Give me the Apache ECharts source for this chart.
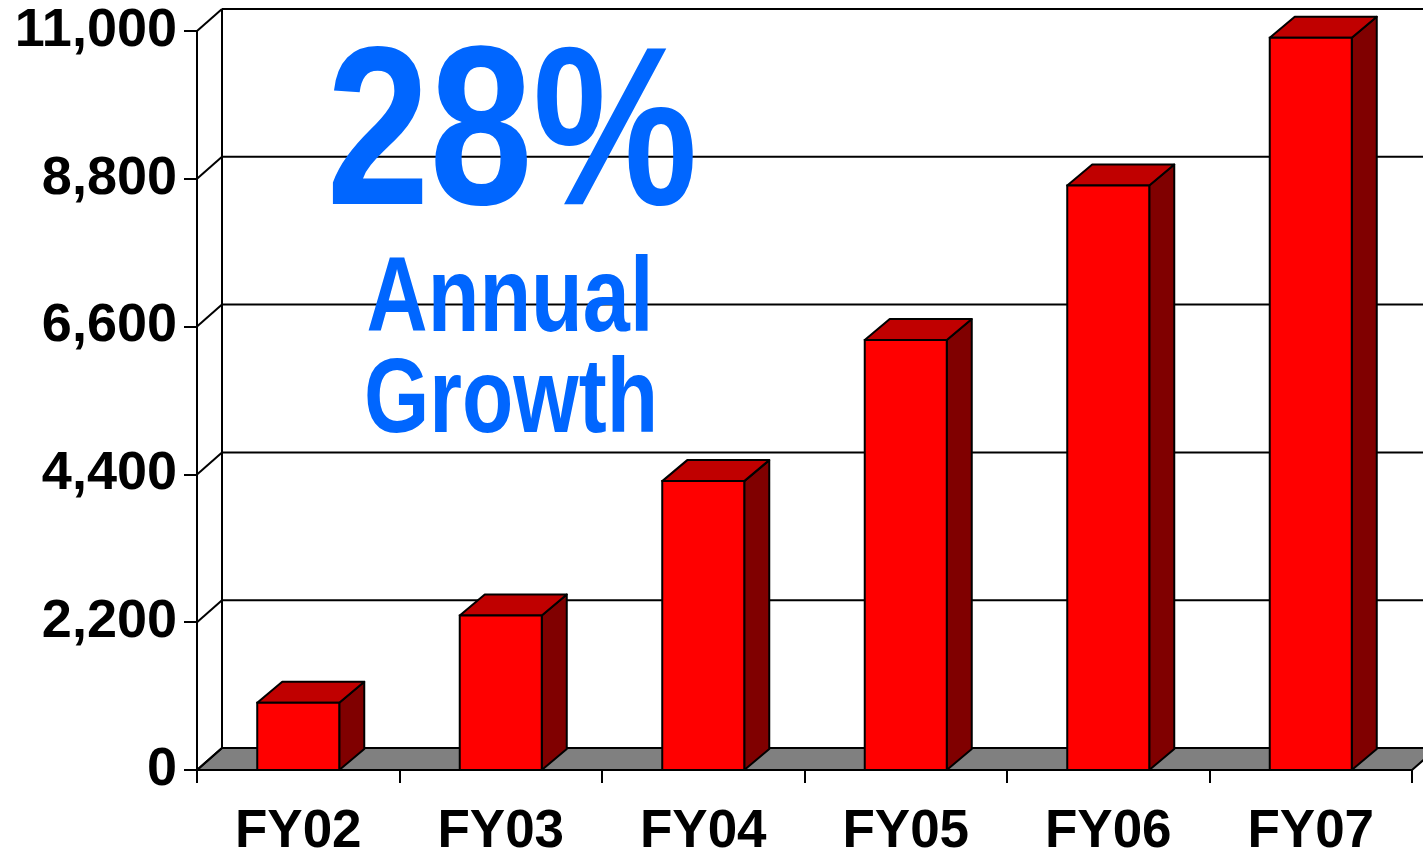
<!DOCTYPE html>
<html>
<head>
<meta charset="utf-8">
<script src="https://cdn.jsdelivr.net/npm/echarts@6/dist/echarts.min.js"></script>
<style>
html,body{margin:0;padding:0;background:#fff;}
#chart{width:1423px;height:854px;}
</style>
</head>
<body>
<div id="chart"></div>
<script>
const categories = ['FY02', 'FY03', 'FY04', 'FY05', 'FY06', 'FY07'];
const values = [1000, 2300, 4300, 6400, 8700, 10900];
const yTicks = [0, 2200, 4400, 6600, 8800, 11000];
const headline = '28%';
const subline1 = 'Annual';
const subline2 = 'Growth';

const DX = 25, DY = 22;
const FONT = '"Liberation Sans", Arial, sans-serif';

const chart = echarts.init(document.getElementById('chart'), null, {renderer: 'canvas'});

const option = {
  animation: false,
  backgroundColor: '#ffffff',
  grid: {left: 197, right: 11, top: 31, bottom: 84, containLabel: false, outerBoundsMode: 'none'},
  xAxis: {
    type: 'category',
    data: categories,
    boundaryGap: true,
    axisLine: {show: true, lineStyle: {color: '#000', width: 2}},
    axisTick: {show: true, length: 13, lineStyle: {color: '#000', width: 2}},
    axisLabel: {color: '#000', fontSize: 53, fontWeight: 'bold', fontFamily: FONT, margin: 36},
    splitLine: {show: false}
  },
  yAxis: {
    type: 'value',
    min: 0, max: 11000, interval: 2200,
    axisLine: {show: true, lineStyle: {color: '#000', width: 2}},
    axisTick: {show: true, length: 13, lineStyle: {color: '#000', width: 2}},
    axisLabel: {
      color: '#000', fontSize: 54, fontWeight: 'bold', fontFamily: FONT, margin: 20,
      formatter: v => v.toLocaleString('en-US')
    },
    splitLine: {show: false}
  },
  series: [
    {
      type: 'custom',
      name: 'floor',
      z: 1,
      silent: true,
      data: [[0, 0]],
      renderItem: function (params, api) {
        const cs = params.coordSys;
        const y0 = api.coord([0, 0])[1];
        const yTop = api.coord([0, yTicks[yTicks.length - 1]])[1];
        const x0 = cs.x, x1 = cs.x + cs.width;
        return {
          type: 'group',
          children: [
            {
              type: 'polygon',
              shape: {points: [[x0, y0], [x0 + DX, y0 - DY], [x1 + DX, y0 - DY], [x1, y0]]},
              style: {fill: '#808080', stroke: '#000', lineWidth: 2}
            },
            {
              type: 'line',
              shape: {x1: x0 + DX, y1: y0 - DY, x2: x0 + DX, y2: yTop - DY},
              style: {stroke: '#000', lineWidth: 2}
            }
          ]
        };
      }
    },
    {
      type: 'custom',
      name: 'wall',
      z: 2,
      silent: true,
      data: yTicks.map(v => [0, v]),
      renderItem: function (params, api) {
        const cs = params.coordSys;
        const y = api.coord([0, api.value(1)])[1];
        const x0 = cs.x, x1 = cs.x + cs.width;
        const children = [
          {type: 'line', shape: {x1: x0, y1: y, x2: x0 + DX, y2: y - DY}, style: {stroke: '#000', lineWidth: 2}}
        ];
        if (api.value(1) !== 0) {
          children.push({type: 'line', shape: {x1: x0 + DX, y1: y - DY, x2: x1 + DX, y2: y - DY}, style: {stroke: '#000', lineWidth: 2}});
        }
        return {type: 'group', children: children};
      }
    },
    {
      type: 'custom',
      name: 'bars',
      z: 3,
      data: values.map((v, i) => [i, v]),
      renderItem: function (params, api) {
        const top = api.coord([api.value(0), api.value(1)]);
        const base = api.coord([api.value(0), 0]);
        const w = api.size([1, 0])[0] * 0.405;
        const xl = top[0] - w / 2, xr = top[0] + w / 2;
        const yt = top[1], yb = base[1];
        const dx = DX, dy = 21;
        return {
          type: 'group',
          children: [
            {
              type: 'polygon',
              shape: {points: [[xr, yt], [xr + dx, yt - dy], [xr + dx, yb - dy], [xr, yb]]},
              style: {fill: '#800000', stroke: '#000', lineWidth: 2, lineJoin: 'round'}
            },
            {
              type: 'polygon',
              shape: {points: [[xl, yt], [xl + dx, yt - dy], [xr + dx, yt - dy], [xr, yt]]},
              style: {fill: '#C00000', stroke: '#000', lineWidth: 2, lineJoin: 'round'}
            },
            {
              type: 'rect',
              shape: {x: xl, y: yt, width: w, height: yb - yt},
              style: {fill: '#FF0000', stroke: '#000', lineWidth: 2}
            }
          ]
        };
      }
    }
  ],
  graphic: [
    {
      type: 'text', x: 512, y: 142, scaleX: 0.82, z: 100,
      style: {text: headline, fill: '#0066FF', font: 'bold 226px ' + FONT, align: 'center', verticalAlign: 'middle'}
    },
    {
      type: 'text', x: 510, y: 302, scaleX: 0.806, z: 100,
      style: {text: subline1, fill: '#0066FF', font: 'bold 105px ' + FONT, align: 'center', verticalAlign: 'middle'}
    },
    {
      type: 'text', x: 511, y: 403, scaleX: 0.80, z: 100,
      style: {text: subline2, fill: '#0066FF', font: 'bold 105px ' + FONT, align: 'center', verticalAlign: 'middle'}
    }
  ]
};

chart.setOption(option);
</script>
</body>
</html>
